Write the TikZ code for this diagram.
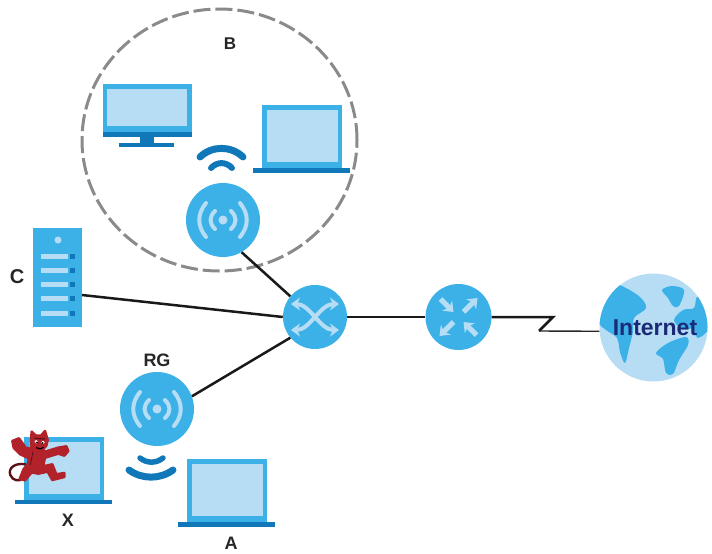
\documentclass[tikz,border=0pt]{standalone}
\usepackage{fontspec}
\setmainfont{Liberation Sans}
\usetikzlibrary{arrows.meta,shapes.geometric}
\definecolor{iconblue}{HTML}{3CB1E8}
\definecolor{palesky}{HTML}{B7DDF4}
\definecolor{deepblue}{HTML}{1077B9}
\definecolor{linkgrey}{HTML}{8A8A8A}
\definecolor{navytext}{HTML}{1B2A78}
\definecolor{devilred}{HTML}{B2222B}
\definecolor{deviledge}{HTML}{5A1218}
\tikzset{
  x=1pt,y=-1pt,
  disc/.style={circle,fill=iconblue,draw=none,inner sep=0pt,minimum size=#1},
  wire/.style={draw=black!90,line width=2.5pt},
  thinwire/.style={draw=black!85,line width=1.4pt},
  wave/.style={draw=deepblue,line width=#1,line cap=round},
  glyph/.style={draw=palesky,line width=4pt,line cap=round},
  tag/.style={font=\fontsize{18}{18}\selectfont\bfseries,text=black!85,inner sep=0pt},
  continent/.style={fill=iconblue,draw=none},
  pics/laptop/.style={code={
    \fill[iconblue] (0,0) rectangle (80,63);
    \fill[palesky] (4.5,5) rectangle (75.5,57);
    \fill[deepblue] (-9,63) rectangle (88,67.5);
  }},
  pics/radiating/.style={code={
    \fill[palesky] (0,0) circle (4.5);
    \draw[glyph] (-8,-9) .. controls (-14,-3) and (-14,3) .. (-8,9);
    \draw[glyph] (8,-9) .. controls (14,-3) and (14,3) .. (8,9);
    \draw[glyph] (-17,-17) .. controls (-26,-6) and (-26,6) .. (-17,17);
    \draw[glyph] (17,-17) .. controls (26,-6) and (26,6) .. (17,17);
  }}
}
\begin{document}
\begin{tikzpicture}
\useasboundingbox (0,0) rectangle (712,554);

% wireless zone
\draw[linkgrey,line width=3pt,dash pattern=on 17pt off 5pt] (219.5,140) ellipse [x radius=137.5pt,y radius=131pt];
\node[tag,font=\fontsize{17}{17}\selectfont\bfseries] (lblB) at (230,44) {B};

% desktop monitor
\fill[iconblue] (103,84) rectangle (192,133);
\fill[palesky] (107,89) rectangle (187,126);
\fill[deepblue] (103,132) rectangle (192,137);
\fill[deepblue] (140,137) rectangle (154,145);
\fill[deepblue] (119,143) rectangle (174,147);

% laptops
\pic at (262,105) {laptop};
\pic at (187,459) {laptop};
\pic at (24,436.5) {laptop};

% wireless signal waves
\draw[wave=7pt] (200,157) .. controls (212,145.5) and (231,145.5) .. (243,157);
\draw[wave=6pt] (211,168) .. controls (217,161.5) and (226,161.5) .. (232,168);
\draw[wave=7pt] (129,470) .. controls (142,479.5) and (160,479.5) .. (173,470);
\draw[wave=5.5pt] (140,458) .. controls (147,463.5) and (156,463.5) .. (163,458);

% access points
\node[disc=74pt] (apB) at (223,220) {};
\pic at (223,220) {radiating};
\node[disc=74pt] (apRG) at (157,409) {};
\pic at (157,409) {radiating};

% server
\node[rectangle,fill=iconblue,minimum width=49pt,minimum height=99pt,inner sep=0pt] (srv) at (57.5,277.5) {};
\fill[palesky] (58,240) circle (3.5);
\foreach \yy in {256,270,284,298,313}{
  \fill[palesky] (41,\yy-2.5) rectangle (68,\yy+2.5);
  \fill[deepblue] (70,\yy-2.5) rectangle (75,\yy+2.5);
}
\coordinate (srvport) at (82,295);

% switch and router
\node[disc=64pt] (sw) at (315,317) {};
\begin{scope}[shift={(315,317)}]
  \draw[palesky,line width=4pt,{Stealth[length=9pt,width=13pt]}-{Stealth[length=9pt,width=13pt]}] (-24,-13) .. controls (-5,-13) and (5,13) .. (24,13);
  \draw[palesky,line width=4pt,{Stealth[length=9pt,width=13pt]}-{Stealth[length=9pt,width=13pt]}] (-24,13) .. controls (-5,13) and (5,-13) .. (24,-13);
\end{scope}
\node[disc=66pt] (rt) at (458.5,317) {};
\begin{scope}[shift={(458.5,317)},palesky,line width=5pt,-{Stealth[length=9pt,width=14pt]}]
  \draw (-18,-18) -- (-5,-5);
  \draw (5,-5) -- (19,-19);
  \draw (-5,5) -- (-19,19);
  \draw (18,18) -- (5,5);
\end{scope}

% globe
\node[circle,fill=palesky,minimum size=108pt,inner sep=0pt] (globe) at (653.5,327.5) {};
\begin{scope}
  \clip (653.5,327.5) circle (54);
  \fill[continent] plot[smooth cycle,tension=0.55] coordinates {(599,322) (604,302) (616,286) (624,287) (640,297) (646,308) (634,318) (633,332) (629,348) (625,363) (620,352) (617,338) (606,330)};
  \fill[continent] plot[smooth cycle,tension=0.55] coordinates {(662,290) (672,286) (684,290) (679,306) (673,306) (668,298)};
  \fill[continent] plot[smooth cycle,tension=0.55] coordinates {(674,320) (683,310) (694,308) (697,297) (707,305) (709,328) (698,338) (693,329) (682,329)};
  \fill[continent] plot[smooth cycle,tension=0.55] coordinates {(656,353) (668,343) (686,337) (688,345) (679,360) (673,374) (666,373) (663,359)};
\end{scope}
\node[font=\fontsize{23}{23}\selectfont\bfseries,text=navytext,inner sep=0pt] (lblNet) at (655,328) {Internet};

% links
\coordinate (zigA) at (553,317);
\coordinate (zigB) at (539,331);
\draw[wire] (apB.-60) -- (sw.140);
\draw[wire] (srvport) -- (sw.west);
\draw[wire] (apRG.20) -- (sw.220);
\draw[wire] (sw.east) -- (rt.west);
\draw[wire,line join=miter] (rt.east) -- (zigA) -- (zigB);
\draw[thinwire] (zigB) -- (globe.184);

% little red devil perched on the laptop
\begin{scope}[shift={(5,425)},x=0.3333pt,y=-0.3333pt]
  \draw[deviledge,line width=2.4pt,line cap=round] (62,118) .. controls (30,112) and (8,130) .. (16,150) .. controls (22,168) and (45,170) .. (52,160);
  \fill[devilred,draw=devilred,line width=2.5pt,line join=round]
    (80,20) -- (93,32) -- (108,32) -- (120,18) -- (128,45) -- (124,62) -- (112,74) -- (120,80)
    -- (160,68) -- (184,64) -- (190,78) -- (178,92) -- (160,86) -- (120,98) -- (114,124) -- (142,118)
    -- (154,148) -- (178,144) -- (178,156) -- (142,165) -- (128,140) -- (100,146) -- (80,142)
    -- (60,166) -- (44,162) -- (56,132) -- (68,118) -- (72,100) -- (46,88) -- (26,68) -- (22,48)
    -- (42,40) -- (62,68) -- (78,72) -- (78,50) -- cycle;
  \fill[white] (94,50) circle (5.5);
  \fill[white] (114,52) circle (5.5);
  \fill[black] (96,52) circle (3);
  \fill[black] (113,54) circle (3);
  \draw[deviledge,line width=1.2pt] (88,40) -- (120,42);
  \draw[black,line width=1.2pt] (94,68) .. controls (102,73) and (108,73) .. (116,66);
  \draw[deviledge,line width=0.8pt] (84,80) -- (76,120);
\end{scope}

% labels
\node[tag] (lblRG) at (157,360) {RG};
\node[tag,font=\fontsize{20}{20}\selectfont\bfseries] (lblC) at (17,277) {C};
\node[tag] (lblX) at (68,520) {X};
\node[tag] (lblA) at (231,543) {A};
\end{tikzpicture}
\end{document}
